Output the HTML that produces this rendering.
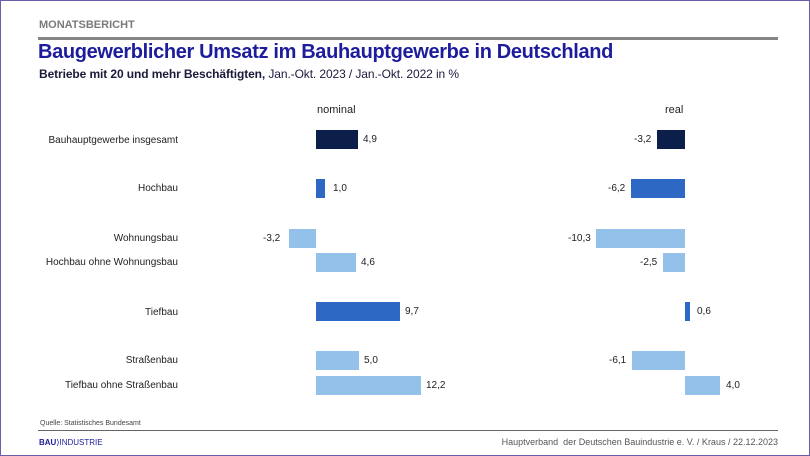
<!DOCTYPE html>
<html><head><meta charset="utf-8"><style>
body{margin:0;width:810px;height:456px;overflow:hidden;background:#fff;font-family:"Liberation Sans",sans-serif}
#f{position:absolute;left:0;top:0;width:808px;height:454px;border:1px solid #6a5ea8}
.t{position:absolute;white-space:nowrap}
.b{position:absolute;height:19px}
.l{position:absolute;right:632px;font-size:10px;color:#222;white-space:nowrap}
.v{position:absolute;font-size:10px;color:#222}
</style></head><body><div id="f"></div>
<div class="t" style="left:39px;top:19px;font-size:11px;font-weight:bold;color:#7a7a7a">MONATSBERICHT</div>
<div style="position:absolute;left:38px;top:37px;width:740px;height:3px;background:#858585"></div>
<div class="t" style="left:38px;top:41px;font-size:20px;font-weight:bold;color:#1c1c9c;letter-spacing:-0.35px">Baugewerblicher Umsatz im Bauhauptgewerbe in Deutschland</div>
<div class="t" style="left:39px;top:67px;font-size:12px;color:#1a1a3a;letter-spacing:-0.1px"><b>Betriebe mit 20 und mehr Beschäftigten,</b> Jan.-Okt. 2023 / Jan.-Okt. 2022 in %</div>
<div class="t" style="left:317px;top:104px;font-size:11px;color:#222">nominal</div>
<div class="t" style="left:665px;top:104px;font-size:11px;color:#222">real</div>

<div class="l" style="top:135px">Bauhauptgewerbe insgesamt</div>
<div class="l" style="top:183px">Hochbau</div>
<div class="l" style="top:233px">Wohnungsbau</div>
<div class="l" style="top:257px">Hochbau ohne Wohnungsbau</div>
<div class="l" style="top:307px">Tiefbau</div>
<div class="l" style="top:355px">Straßenbau</div>
<div class="l" style="top:380px">Tiefbau ohne Straßenbau</div>

<div class="b" style="left:316px;top:130px;width:42px;background:#0c1f4a"></div><div class="v" style="left:363px;top:134px">4,9</div>
<div class="b" style="left:316px;top:179px;width:9px;background:#2d69c4"></div><div class="v" style="left:333px;top:183px">1,0</div>
<div class="b" style="left:289px;top:229px;width:27px;background:#93c1ea"></div><div class="v" style="left:263px;top:233px">-3,2</div>
<div class="b" style="left:316px;top:253px;width:40px;background:#93c1ea"></div><div class="v" style="left:361px;top:257px">4,6</div>
<div class="b" style="left:316px;top:302px;width:84px;background:#2d69c4"></div><div class="v" style="left:405px;top:306px">9,7</div>
<div class="b" style="left:316px;top:351px;width:43px;background:#93c1ea"></div><div class="v" style="left:364px;top:355px">5,0</div>
<div class="b" style="left:316px;top:376px;width:105px;background:#93c1ea"></div><div class="v" style="left:426px;top:380px">12,2</div>

<div class="b" style="left:657px;top:130px;width:28px;background:#0c1f4a"></div><div class="v" style="left:634px;top:134px">-3,2</div>
<div class="b" style="left:631px;top:179px;width:54px;background:#2d69c4"></div><div class="v" style="left:608px;top:183px">-6,2</div>
<div class="b" style="left:596px;top:229px;width:89px;background:#93c1ea"></div><div class="v" style="left:568px;top:233px">-10,3</div>
<div class="b" style="left:663px;top:253px;width:22px;background:#93c1ea"></div><div class="v" style="left:640px;top:257px">-2,5</div>
<div class="b" style="left:685px;top:302px;width:5px;background:#2d69c4"></div><div class="v" style="left:697px;top:306px">0,6</div>
<div class="b" style="left:632px;top:351px;width:53px;background:#93c1ea"></div><div class="v" style="left:609px;top:355px">-6,1</div>
<div class="b" style="left:685px;top:376px;width:35px;background:#93c1ea"></div><div class="v" style="left:726px;top:380px">4,0</div>

<div class="t" style="left:40px;top:420px;font-size:7px;color:#444">Quelle: Statistisches Bundesamt</div>
<div style="position:absolute;left:38px;top:430px;width:740px;height:1px;background:#666"></div>
<div class="t" style="left:39px;top:438px;font-size:8px;color:#1c1c9c"><b>BAU</b>⟩INDUSTRIE</div>
<div class="t" style="right:32px;top:437px;font-size:9px;color:#555">Hauptverband&nbsp; der Deutschen Bauindustrie e. V. / Kraus / 22.12.2023</div>
</body></html>
